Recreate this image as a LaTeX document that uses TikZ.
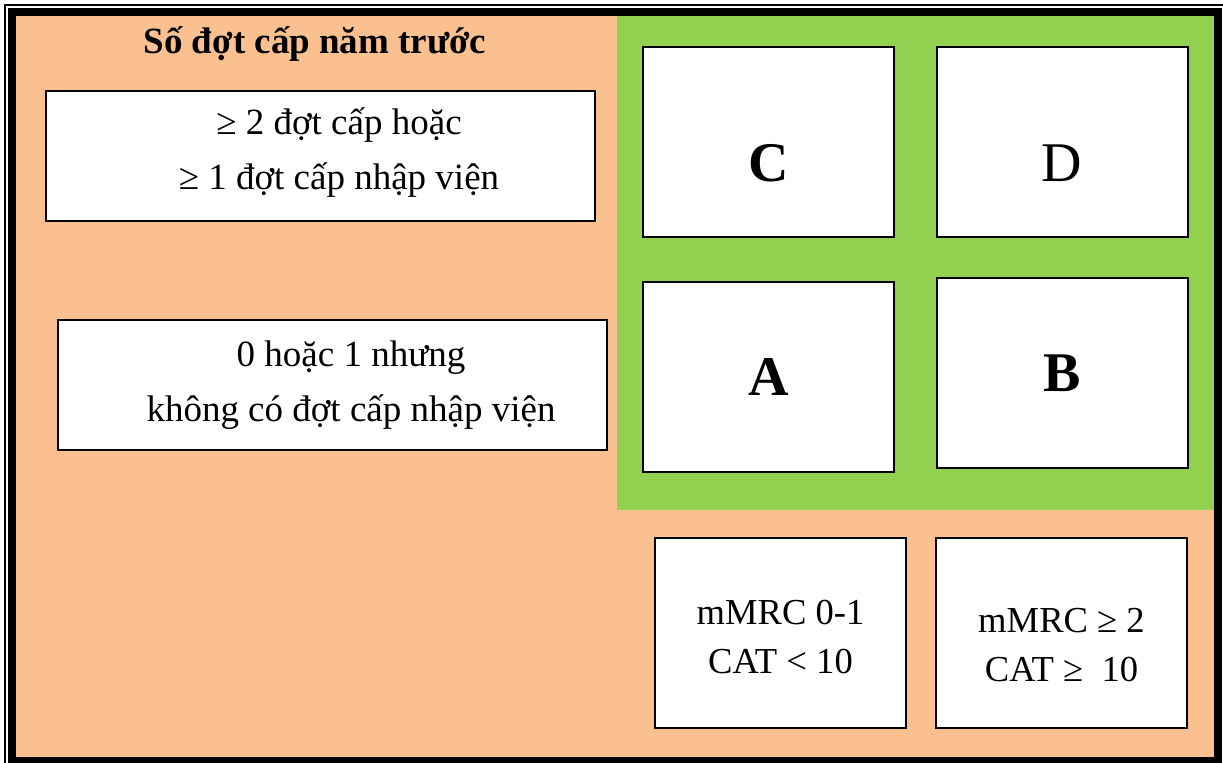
\documentclass[tikz,border=0pt]{standalone}
\usepackage{fontspec}
\setmainfont{Liberation Serif}
\usepackage{xcolor}
\usetikzlibrary{positioning}
\definecolor{peach}{HTML}{FAC08F}
\definecolor{leaf}{HTML}{92D050}
\newcommand*{\bodyfont}{\fontsize{18.5}{27.5}\selectfont}
\newcommand*{\gradefont}{\fontsize{28}{32}\selectfont}
\newcommand*{\indentline}{\hspace*{18.5pt}}

\begin{document}
\begin{tikzpicture}[x=0.5pt,y=-0.5pt,
	box/.style={rectangle,draw=black,line width=1pt,fill=white,align=center,inner sep=0pt},
	grade/.style={box,minimum width=125.5pt,minimum height=95pt,font=\gradefont},
	rowbox/.style={box,minimum width=274.5pt,minimum height=65pt,font=\bodyfont},
	scorebox/.style={box,minimum width=125.5pt,minimum height=95pt,font=\fontsize{18.3}{24.5}\selectfont}]
	\useasboundingbox (0,0) rectangle (1223,763);
	\begin{scope}
	\clip (0,0) rectangle (1223,763);
	% background and frame
	\fill[peach] (16,16) rectangle (1214,757);
	\fill[leaf] (617,16) rectangle (1214,510);
	\draw[line width=4pt] (12,12) rectangle (1218,761);
	\draw[line width=1pt] (5,5) rectangle (1225,768);
	\end{scope}
	% title and the two rows
	\node[font=\bodyfont\bfseries] (title) at (315,44) {Số đợt cấp năm trước};
	\node[rowbox] (many) at (320.5,156) {};
	\node[font=\bodyfont,align=center] at ([yshift=1.5pt]many.center) {\indentline≥ 2 đợt cấp hoặc\\\indentline≥ 1 đợt cấp nhập viện};
	\node[rowbox] (few) at (332.5,385.5) {\indentline0 hoặc 1 nhưng\\\indentline không có đợt cấp nhập viện};
	% groups
	\node[grade] (C) at (768.5,142.5) {};
	\node[grade] (D) at (1062,142.5) {};
	\node[font=\gradefont\bfseries] at ([yshift=-10.5pt]C.center) {C};
	\node[font=\gradefont] at ([yshift=-10.5pt]D.center) {D};
	\node[grade] (A) at (768.5,377) {\textbf{A}};
	\node[grade] (B) at (1062,373.5) {\textbf{B}};
	% symptom columns
	\node[scorebox] (low) at (780.5,633) {};
	\node[scorebox] (high) at (1061.5,633) {};
	\node[font=\fontsize{18.3}{24.5}\selectfont,align=center] at ([yshift=-2pt]low.center) {mMRC 0-1\\CAT < 10};
	\node[font=\fontsize{18.3}{24.5}\selectfont,align=center] at ([yshift=-6pt]high.center) {mMRC ≥ 2\\CAT ≥\ \ 10};
\end{tikzpicture}
\end{document}
